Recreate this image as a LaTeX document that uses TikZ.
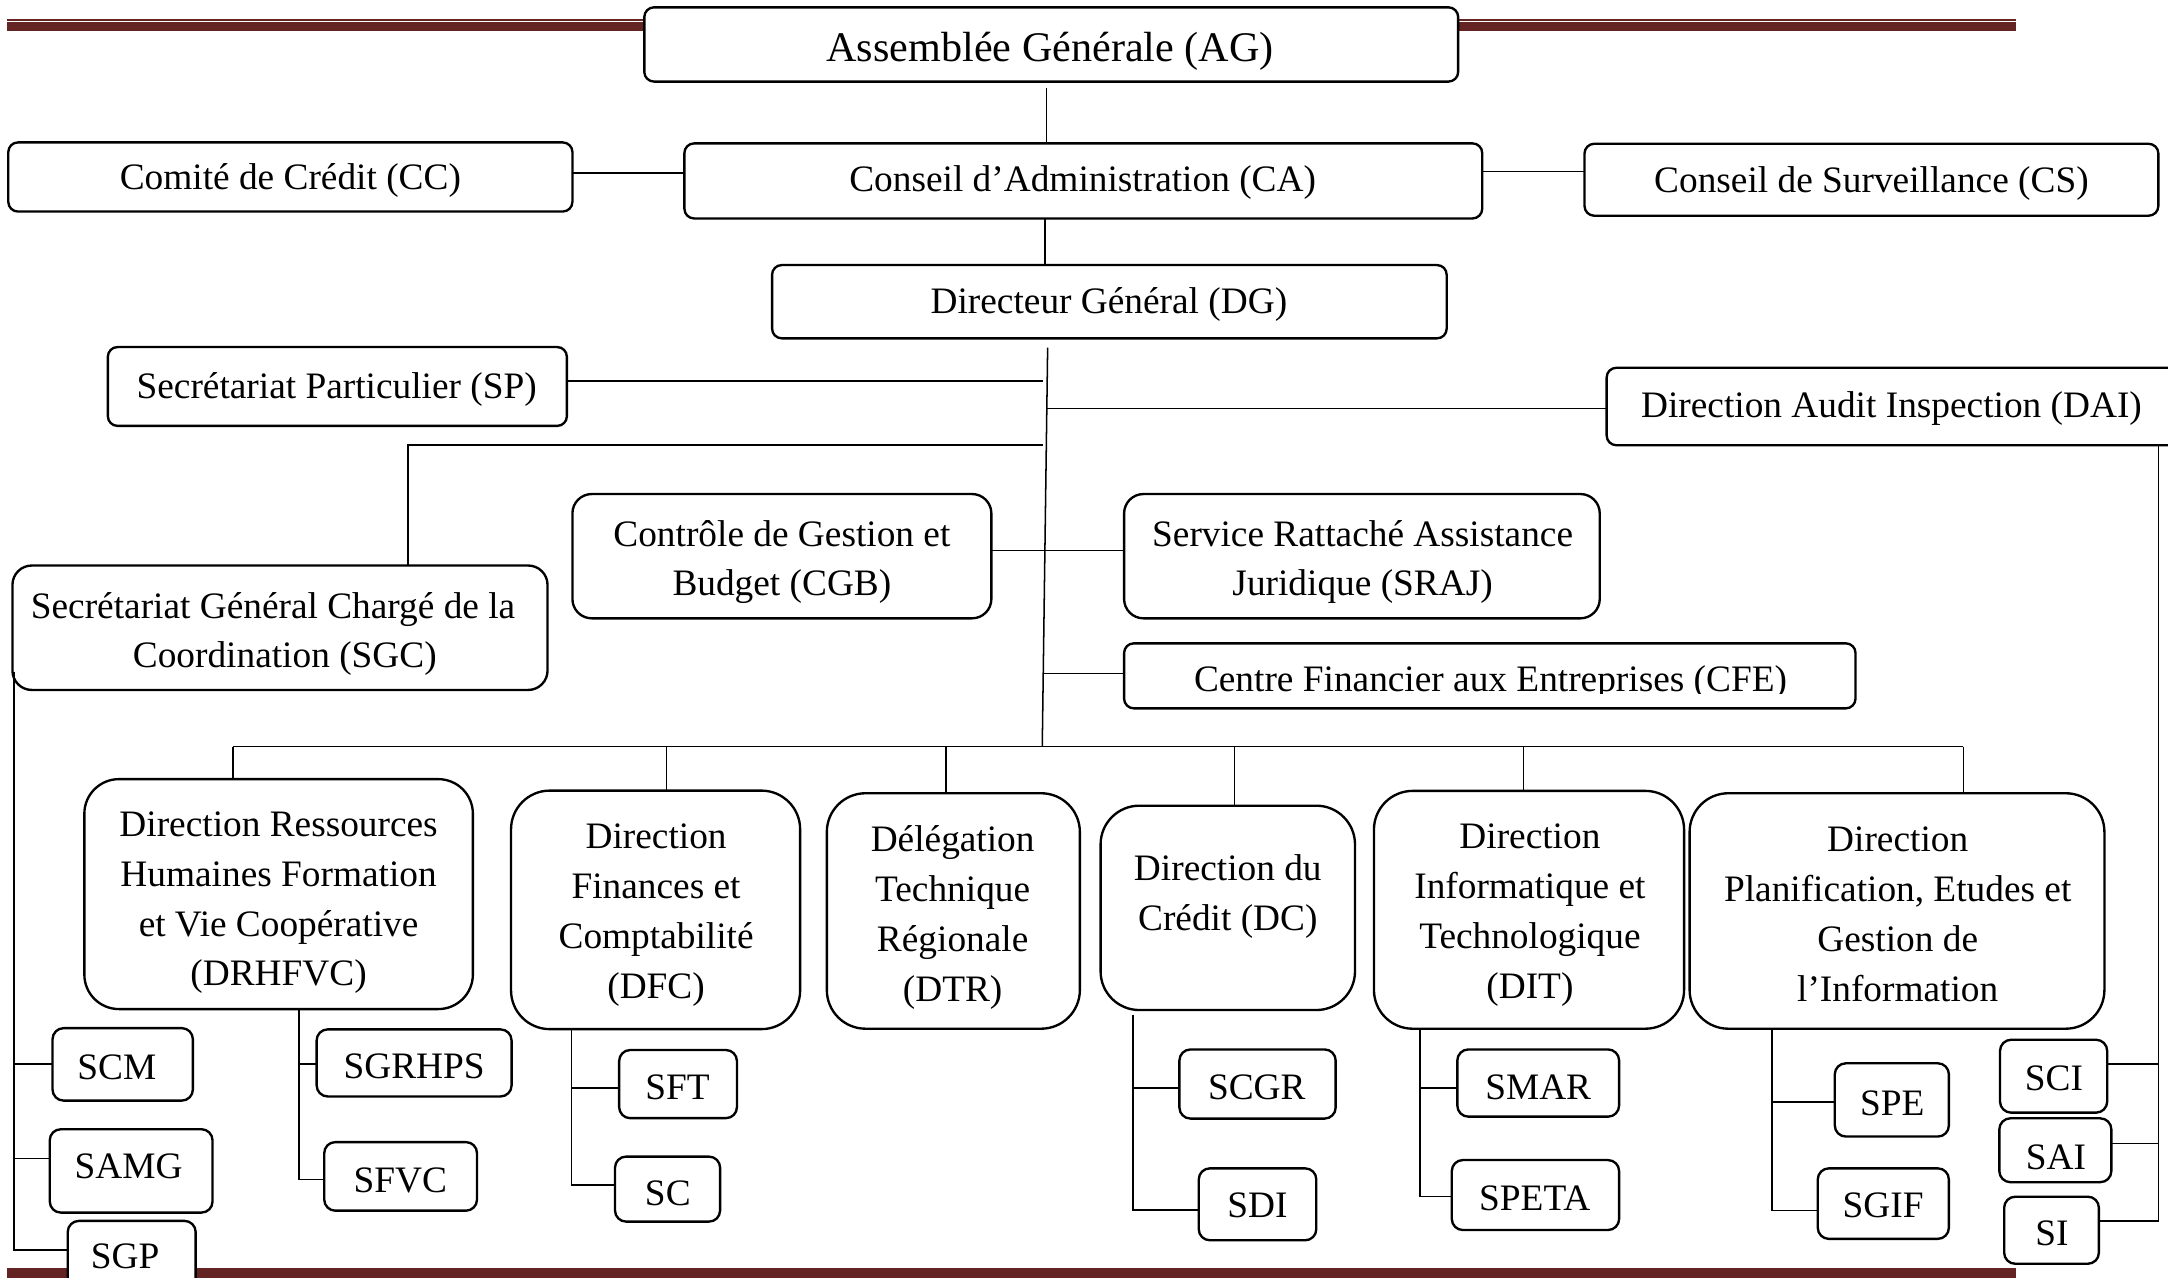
\documentclass[tikz,border=0pt]{standalone}
\usepackage{fontspec}
\setmainfont{Liberation Serif}
\usetikzlibrary{calc}
\definecolor{barred}{RGB}{99,36,35}
\newcommand\fsz{\fontsize{27}{36}\selectfont}
\newcommand\fszAG{\fontsize{30.5}{36}\selectfont}
% box: [radius]{name}{x1}{y1}{x2}{y2}
\newcommand\obox[6][7]{\node[box, rounded corners=#1pt, minimum width={#5-#3}, minimum height={#6-#4}] (#2) at ({(#3+#5)/2},{(#4+#6)/2}) {};}
% text: [font]{name}{x}{first baseline}{text}
\newcommand\otxt[5][\fsz]{\node[txt, font=#1] (#2) at ({#3},{#4-25.2}) {\strut #5};}
\begin{document}
\begin{tikzpicture}[x=1pt,y=-1pt,
  box/.style={draw=black, line width=1.7pt, fill=white, inner sep=0pt, outer sep=0pt},
  txt/.style={anchor=north, inner sep=0pt, outer sep=0pt, align=center},
  conn/.style={draw=black, line width=1.1pt},
  bar/.style={fill=barred, draw=none}]
\useasboundingbox (0,0) rectangle (1568,924);
\fill[white] (0,0) rectangle (1568,924);
% page bars
\path[bar] (5,13.7) rectangle (1458,15.1);
\path[bar] (5,16.2) rectangle (1458,22.4);
\path[bar] (5,917) rectangle (1458,930);
% boxes
\obox{AG}{466}{5.3}{1054.6}{59}
\obox{CC}{6}{103}{414}{153}
\obox{CA}{495}{103.7}{1072}{158}
\obox{CS}{1146}{104}{1561}{156}
\obox{DG}{558.4}{191.7}{1046.3}{244.7}
\obox{SP}{78}{251}{410}{308}
\obox{DAI}{1162}{266}{1590}{322}
\obox[14]{CGB}{414}{357.3}{717}{447.2}
\obox[14]{SRAJ}{813}{357.3}{1157}{447.2}
\obox[14]{SGC}{9}{409}{396}{499}
\obox{CFE}{813}{465.3}{1342}{512.3}
\obox[25]{DRHFVC}{61}{563.5}{342}{729.8}
\obox[28]{DFC}{369.6}{571.8}{578.7}{744.3}
\obox[28]{DTR}{598}{573.7}{781}{744}
\obox[28]{DC}{796}{582.7}{980}{730.5}
\obox[28]{DIT}{993.7}{572}{1218}{744}
\obox[28]{DPEGI}{1222}{573.7}{1522}{744}
\obox[8]{SCM}{38}{743.6}{139.5}{796}
\obox[8]{SAMG}{36}{816.7}{153.7}{877}
\obox[8]{SGP}{49}{883}{141.5}{945}
\obox[8]{SGRHPS}{229}{744.5}{370}{793}
\obox[8]{SFVC}{234.5}{826}{345}{875.6}
\obox[8]{SFT}{447.8}{759.4}{533}{808.7}
\obox[8]{SC}{444.8}{836.5}{520.8}{883.5}
\obox[8]{SCGR}{853}{759}{966}{809}
\obox[8]{SDI}{867}{845}{952}{897}
\obox[8]{SMAR}{1054}{759}{1171}{807.6}
\obox[8]{SPETA}{1050}{839}{1171}{889.6}
\obox[8]{SPE}{1327}{769}{1409.5}{822}
\obox[8]{SGIF}{1314.7}{845}{1409.5}{896}
\obox[8]{SCI}{1446.5}{752}{1524}{804.7}
\obox[8]{SAI}{1446}{808.8}{1527}{855}
\obox[8]{SI}{1449.5}{865.5}{1518}{914}
% top connectors
\coordinate (agd) at (757,63.9);
\draw[conn] (agd) -- (agd |- CA.north);
\draw[conn] (CC.east |- 0,125) -- (CA.west |- 0,125);
\draw[conn] (CA.east |- 0,124) -- (CS.west |- 0,124);
\coordinate (cad) at (755.7,0);
\draw[conn] (CA.south -| cad) -- (DG.north -| cad);
% trunk
\coordinate (tTop) at (757.7,251.4);
\coordinate (tBot) at (753.8,540);
\draw[conn] (tTop) -- (tBot);
\coordinate (spEnd) at (754,275.5);
\draw[conn] (SP.east |- spEnd) -- (spEnd);
\coordinate (sgcEnd) at (754,322);
\coordinate (sgcX) at (295,0);
\draw[conn] (sgcEnd) -- (sgcEnd -| sgcX) -- (SGC.north -| sgcX);
\coordinate (daiStart) at (757.3,295.3);
\draw[conn] (daiStart) -- (DAI.west |- daiStart);
\draw[conn] (CGB.east |- 0,398) -- (SRAJ.west |- 0,398);
\coordinate (cfeStart) at (754.5,487);
\draw[conn] (cfeStart) -- (CFE.west |- cfeStart);
% bus
\coordinate (busL) at (168.4,540);
\coordinate (busR) at (1420,540);
\draw[conn] (busL) -- (busR);
\draw[conn] (busL) -- (DRHFVC.north -| busL);
\draw[conn] (busR) -- (DPEGI.north -| busR);
\foreach \n/\x in {DFC/482, DTR/684, DC/893, DIT/1102}
  \draw[conn] (\x,540) -- (\n.north -| \x,540);
% SGC spine (left)
\coordinate (lsTop) at (10.3,486);
\coordinate (lsBot) at (10.3,904);
\draw[conn] (lsTop) -- (lsBot) -- (SGP.west |- lsBot);
\draw[conn] (lsTop |- 0,769.5) -- (SCM.west |- 0,769.5);
\draw[conn] (lsTop |- 0,838) -- (SAMG.west |- 0,838);
% DRHFVC spine
\coordinate (d1) at (216.4,0);
\draw[conn] (DRHFVC.south -| d1) -- (d1 |- 0,853) -- (SFVC.west |- 0,853);
\draw[conn] (d1 |- 0,769.5) -- (SGRHPS.west |- 0,769.5);
% DFC spine
\coordinate (d2) at (413.5,0);
\draw[conn] (DFC.south -| d2) -- (d2 |- 0,857) -- (SC.west |- 0,857);
\draw[conn] (d2 |- 0,787) -- (SFT.west |- 0,787);
% DC spine
\coordinate (d4) at (819.5,734);
\draw[conn] (d4) -- (d4 |- 0,875) -- (SDI.west |- 0,875);
\draw[conn] (d4 |- 0,787) -- (SCGR.west |- 0,787);
% DIT spine
\coordinate (d5) at (1027,0);
\draw[conn] (DIT.south -| d5) -- (d5 |- 0,865.5) -- (SPETA.west |- 0,865.5);
\draw[conn] (d5 |- 0,787) -- (SMAR.west |- 0,787);
% DPEGI spine
\coordinate (d6) at (1281.6,0);
\draw[conn] (DPEGI.south -| d6) -- (d6 |- 0,875.6) -- (SGIF.west |- 0,875.6);
\draw[conn] (d6 |- 0,797) -- (SPE.west |- 0,797);
% DAI spine (right)
\coordinate (rx) at (1561,0);
\draw[conn] (DAI.south -| rx) -- (rx |- 0,883) -- (SI.east |- 0,883);
\draw[conn] (rx |- 0,769.5) -- (SCI.east |- 0,769.5);
\draw[conn] (rx |- 0,827) -- (SAI.east |- 0,827);
% texts
\otxt[\fszAG]{tAG}{759.5}{44.2}{Assemblée Générale (AG)}
\otxt{tCC}{210}{137}{Comité de Crédit (CC)}
\otxt{tCA}{783}{138.8}{Conseil d’Administration (CA)}
\otxt{tCS}{1353.5}{139}{Conseil de Surveillance (CS)}
\otxt{tDG}{802}{226.9}{Directeur Général (DG)}
\otxt{tSP}{243.5}{288}{Secrétariat Particulier (SP)}
\otxt{tDAI}{1368}{302}{Direction Audit Inspection (DAI)}
\otxt{tCGB}{565.5}{395}{Contrôle de Gestion et\\Budget (CGB)}
\otxt{tSRAJ}{985.5}{395}{Service Rattaché Assistance\\Juridique (SRAJ)}
\otxt{tSGC}{197.5}{447}{Secrétariat Général Chargé de la\\\hspace*{17pt}Coordination (SGC)}
\begin{scope}
\clip (813,465.3) rectangle (1342,501.8);
\otxt{tCFE}{1078}{500.2}{Centre Financier aux Entreprises (CFE)}
\end{scope}
\otxt{tDRHFVC}{201.5}{605}{Direction Ressources\\Humaines Formation\\et Vie Coopérative\\(DRHFVC)}
\otxt{tDFC}{474.5}{614}{Direction\\Finances et\\Comptabilité\\(DFC)}
\otxt{tDTR}{689}{616}{Délégation\\Technique\\Régionale\\(DTR)}
\otxt{tDC}{888}{637}{Direction du\\Crédit (DC)}
\otxt{tDIT}{1106.5}{614}{Direction\\Informatique et\\Technologique\\(DIT)}
\otxt{tDPEGI}{1372.5}{616}{Direction\\Planification, Etudes et\\Gestion de\\l’Information}
\otxt{tSCM}{84.5}{780.5}{SCM}
\otxt{tSAMG}{93}{852.5}{SAMG}
\otxt{tSGP}{90.5}{917.5}{SGP}
\otxt{tSGRHPS}{299.5}{780}{SGRHPS}
\otxt{tSFVC}{289.5}{862.5}{SFVC}
\otxt{tSFT}{490}{795.5}{SFT}
\otxt{tSC}{483}{872}{SC}
\otxt{tSCGR}{909}{795.5}{SCGR}
\otxt{tSDI}{909.5}{880.5}{SDI}
\otxt{tSMAR}{1112.5}{795.5}{SMAR}
\otxt{tSPETA}{1110}{875.5}{SPETA}
\otxt{tSPE}{1368.5}{806.5}{SPE}
\otxt{tSGIF}{1362}{880.5}{SGIF}
\otxt{tSCI}{1485.5}{789}{SCI}
\otxt{tSAI}{1487}{845.5}{SAI}
\otxt{tSI}{1484}{900.5}{SI}
\end{tikzpicture}
\end{document}
